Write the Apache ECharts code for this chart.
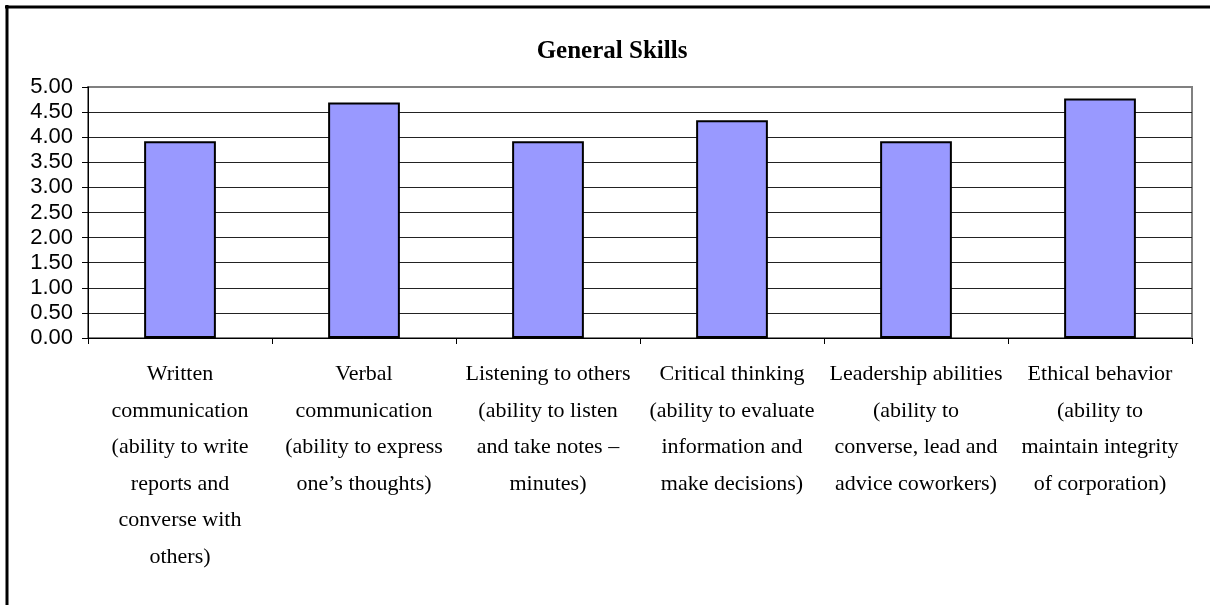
<!DOCTYPE html>
<html>
<head>
<meta charset="utf-8">
<script src="https://cdn.jsdelivr.net/npm/echarts@6/dist/echarts.min.js"></script>
<style>
  html, body { margin: 0; padding: 0; background: #fff; }
  #chart { width: 1210px; height: 605px; }
</style>
</head>
<body>
<div id="chart"></div>
<script>
// categories (line breaks as in the original chart)
var skills = [
  'Written\ncommunication\n(ability to write\nreports and\nconverse with\nothers)',
  'Verbal\ncommunication\n(ability to express\none\u2019s thoughts)',
  'Listening to others\n(ability to listen\nand take notes \u2013\nminutes)',
  'Critical thinking\n(ability to evaluate\ninformation and\nmake decisions)',
  'Leadership abilities\n(ability to\nconverse, lead and\nadvice coworkers)',
  'Ethical behavior\n(ability to\nmaintain integrity\nof corporation)'
]
var scores = [3.92, 4.69, 3.92, 4.34, 3.92, 4.77]
var yMin = 0
var yMax = 5
var yStep = 0.5

// 0.00 .. 4.50 dark, top line 5.00 gray (plot border)
var gridColors = []
for (var i = 0; i < 10; i++) gridColors.push('#222')
gridColors.push('#808080')

var chart = echarts.init(document.getElementById('chart'))
chart.setOption({
  animation: false,
  backgroundColor: '#fff',
  title: {
    text: 'General Skills',
    left: 607,
    top: 34,
    textAlign: 'center',
    textStyle: {
      fontFamily: 'Liberation Serif',
      fontWeight: 'bold',
      fontSize: 25,
      color: '#000'
    }
  },
  graphic: [
    { type: 'line', shape: { x1: 7, y1: 5, x2: 7, y2: 605 }, style: { stroke: '#000', lineWidth: 3 } },
    { type: 'line', shape: { x1: 5, y1: 7, x2: 1210, y2: 7 }, style: { stroke: '#000', lineWidth: 3 } }
  ],
  grid: {
    left: 88,
    right: 18,
    top: 87,
    bottom: 267,
    show: true,
    borderColor: '#808080',
    borderWidth: 2
  },
  xAxis: {
    type: 'category',
    data: skills,
    axisLine: { lineStyle: { color: '#000', width: 1 } },
    axisTick: { show: true, length: 6, lineStyle: { color: '#000' } },
    axisLabel: {
      interval: 0,
      margin: 18,
      fontFamily: 'Liberation Serif',
      fontSize: 22,
      lineHeight: 36.5,
      color: '#000',
      align: 'center'
    }
  },
  yAxis: {
    type: 'value',
    min: yMin,
    max: yMax,
    interval: yStep,
    axisLine: { show: true, lineStyle: { color: '#000', width: 1 } },
    axisTick: { show: true, length: 6, lineStyle: { color: '#000' } },
    splitLine: { show: true, lineStyle: { color: gridColors, width: 1 } },
    axisLabel: {
      margin: 15,
      fontFamily: 'Liberation Sans',
      fontSize: 22,
      color: '#000',
      formatter: function (v) { return v.toFixed(2) }
    }
  },
  series: [{
    type: 'bar',
    data: scores,
    barWidth: '39%',
    itemStyle: {
      color: '#9999FF',
      borderColor: '#000',
      borderWidth: 2
    }
  }]
})
</script>
</body>
</html>
